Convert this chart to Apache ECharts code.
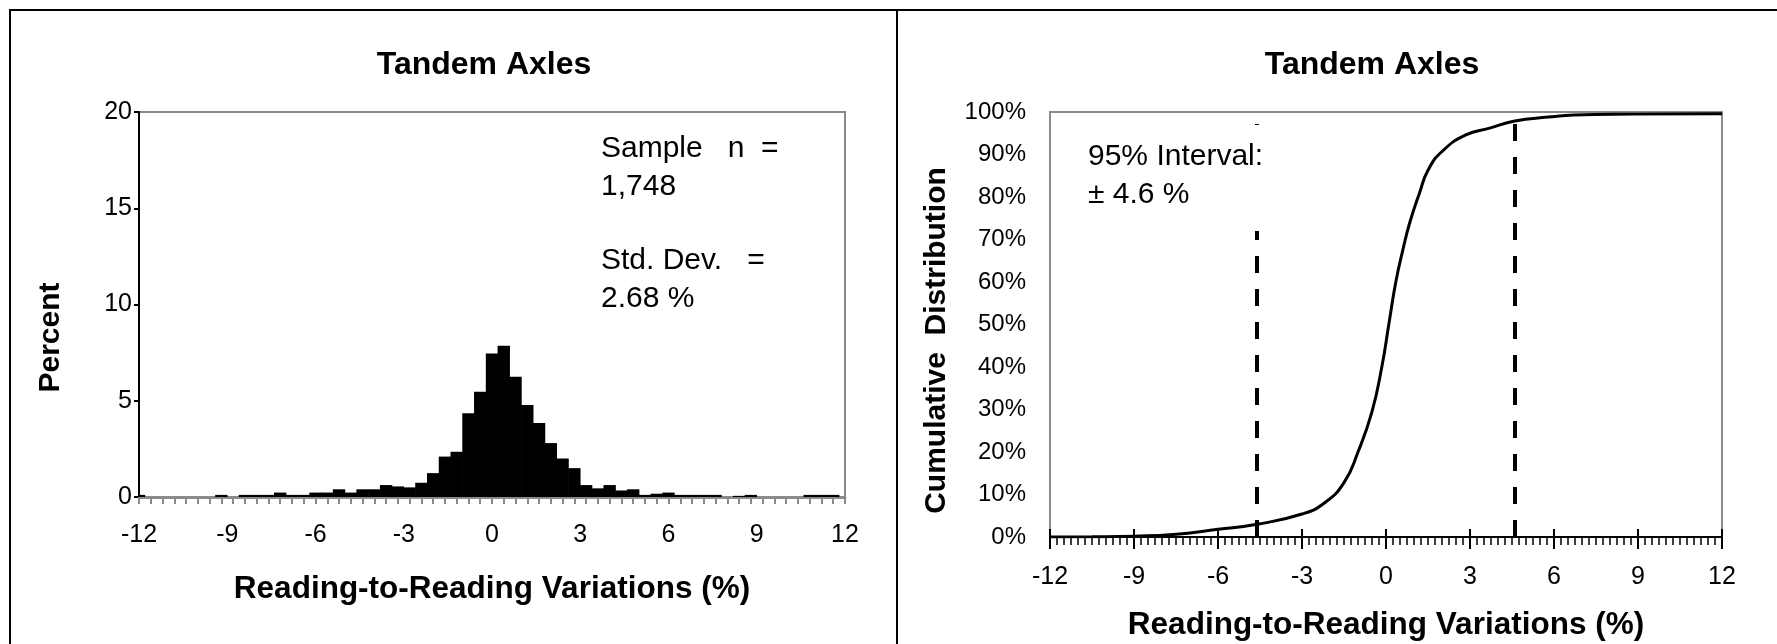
<!DOCTYPE html>
<html>
<head>
<meta charset="utf-8">
<script src="https://cdn.jsdelivr.net/npm/echarts@6/dist/echarts.min.js"></script>
<style>
  html, body { margin: 0; padding: 0; background: #fff; }
  #chart { width: 1777px; height: 644px; }
</style>
</head>
<body>
<div id="chart"></div>
<script>
// histogram: bin centres (%) and share of readings in each bin (%)
const binCenters = [
  -12, -11.6, -11.2, -10.8, -10.4, -10, -9.6, -9.2, -8.8, -8.4,
  -8, -7.6, -7.2, -6.8, -6.4, -6, -5.6, -5.2, -4.8, -4.4,
  -4, -3.6, -3.2, -2.8, -2.4, -2, -1.6, -1.2, -0.8, -0.4,
  0, 0.4, 0.8, 1.2, 1.6, 2, 2.4, 2.8, 3.2, 3.6,
  4, 4.4, 4.8, 5.2, 5.6, 6, 6.4, 6.8, 7.2, 7.6,
  8, 8.4, 8.8, 9.2, 9.6, 10, 10.4, 10.8, 11.2, 11.6, 12
];
const histPercent = [
  0.11, 0, 0, 0, 0, 0, 0, 0.11, 0, 0.11,
  0.11, 0.11, 0.23, 0.11, 0.11, 0.23, 0.23, 0.4, 0.23, 0.4,
  0.4, 0.62, 0.55, 0.5, 0.74, 1.24, 2.1, 2.35, 4.35, 5.47,
  7.46, 7.86, 6.25, 4.78, 3.85, 2.8, 2.0, 1.5, 0.62, 0.45,
  0.62, 0.34, 0.4, 0.11, 0.17, 0.23, 0.11, 0.11, 0.11, 0.11,
  0, 0.06, 0.11, 0, 0, 0, 0, 0.11, 0.11, 0.11, 0
];
const binWidth = 0.4;

// cumulative distribution
const cdfX = [-12, -10.5, -9, -7.6, -6, -4.6, -3, -2.2, -1.5, -1, -0.5, -0.15, 0.1, 0.35, 0.6, 0.85, 1.2, 1.5, 2, 2.85, 3.7, 4.6, 5.8, 6.7, 8.8, 12];
const cdfPercent = [0, 0.05, 0.2, 0.6, 1.8, 3.0, 5.4, 8.0, 12.8, 20, 29.5, 40, 50, 60, 67.5, 74, 81, 86.3, 90.7, 94.6, 96.2, 97.9, 98.8, 99.3, 99.5, 99.6];

const interval95 = [-4.6, 4.6];
const xRange = [-12, 12];
const histYRange = [0, 20];
const cdfYRange = [0, 100];

const FONT = "'Liberation Sans', Arial, sans-serif";
const GREY = '#8a8a8a';

const chart = echarts.init(document.getElementById('chart'));

const histData = binCenters.map((x, i) => [x, histPercent[i]]);
const cdfData = cdfX.map((x, i) => [x, cdfPercent[i]]);

const titleStyle = { fontFamily: FONT, fontSize: 32, fontWeight: 'bold', color: '#000' };
const nameStyle = { fontFamily: FONT, fontSize: 31.5, fontWeight: 'bold', color: '#000' };

const option = {
  animation: false,
  backgroundColor: '#fff',
  title: [
    { text: 'Tandem Axles', left: 484, top: 49, textAlign: 'center', padding: 0, textStyle: titleStyle },
    { text: 'Tandem Axles', left: 1372, top: 49, textAlign: 'center', padding: 0, textStyle: titleStyle }
  ],
  grid: [
    { left: 139, top: 112, width: 706, height: 385, show: true, borderColor: GREY, borderWidth: 2, containLabel: false, outerBoundsMode: 'none' },
    { left: 1050, top: 112, width: 672, height: 425, show: true, borderColor: GREY, borderWidth: 2, containLabel: false, outerBoundsMode: 'none' }
  ],
  xAxis: [
    {
      type: 'value', gridIndex: 0, position: 'bottom', min: xRange[0], max: xRange[1], interval: 3,
      name: 'Reading-to-Reading Variations (%)', nameLocation: 'middle', nameGap: 76,
      nameTextStyle: nameStyle,
      axisLine: { show: true, onZero: false, lineStyle: { color: GREY, width: 3 } },
      axisTick: { show: false },
      splitLine: { show: false },
      axisLabel: { fontFamily: FONT, fontSize: 25, color: '#000', margin: 26 }
    },
    {
      type: 'value', gridIndex: 0, position: 'bottom', min: xRange[0], max: xRange[1], interval: binWidth,
      axisLine: { show: false, onZero: false },
      axisTick: { show: true, length: 7, lineStyle: { color: GREY, width: 2 } },
      axisLabel: { show: false },
      splitLine: { show: false }
    },
    {
      type: 'value', gridIndex: 1, position: 'bottom', min: xRange[0], max: xRange[1], interval: 3,
      name: 'Reading-to-Reading Variations (%)', nameLocation: 'middle', nameGap: 72,
      nameTextStyle: nameStyle,
      axisLine: { show: true, onZero: false, lineStyle: { color: '#000', width: 2 } },
      axisTick: { show: true, length: 12, lineStyle: { color: '#000', width: 2 } },
      minorTick: { show: true, splitNumber: 12, length: 8, lineStyle: { color: '#000', width: 1.5 } },
      splitLine: { show: false },
      minorSplitLine: { show: false },
      axisLabel: { fontFamily: FONT, fontSize: 25, color: '#000', margin: 28 }
    },
    {
      type: 'value', gridIndex: 1, position: 'bottom', min: xRange[0], max: xRange[1], interval: 3,
      axisLine: { show: false, onZero: false },
      axisTick: { show: true, inside: true, length: 8, lineStyle: { color: '#000', width: 2 } },
      axisLabel: { show: false },
      splitLine: { show: false }
    }
  ],
  yAxis: [
    {
      type: 'value', gridIndex: 0, min: histYRange[0], max: histYRange[1], interval: 5,
      name: 'Percent', nameLocation: 'middle', nameGap: 73, nameRotate: 90,
      nameTextStyle: Object.assign({ padding: [0, 66, 0, 0] }, nameStyle, { fontSize: 30 }),
      axisLine: { show: true, onZero: false, lineStyle: { color: '#000', width: 2 } },
      axisTick: { show: true, length: 5, lineStyle: { color: '#000', width: 2 } },
      splitLine: { show: false },
      axisLabel: { fontFamily: FONT, fontSize: 25, color: '#000', margin: 7 }
    },
    {
      type: 'value', gridIndex: 1, min: cdfYRange[0], max: cdfYRange[1], interval: 10,
      name: 'Cumulative  Distribution', nameLocation: 'middle', nameGap: 98, nameRotate: 90,
      nameTextStyle: Object.assign({ padding: [0, 32, 0, 0] }, nameStyle, { fontSize: 30 }),
      axisLine: { show: false, onZero: false },
      axisTick: { show: false },
      splitLine: { show: false },
      axisLabel: { fontFamily: FONT, fontSize: 24, color: '#000', margin: 24, formatter: '{value}%' }
    }
  ],
  series: [
    {
      type: 'custom',
      xAxisIndex: 0,
      yAxisIndex: 0,
      data: histData,
      silent: true,
      renderItem: function (params, api) {
        const x = api.value(0);
        const y = api.value(1);
        if (!y) return null;
        const p0 = api.coord([x - binWidth / 2, y]);
        const p1 = api.coord([x + binWidth / 2, 0]);
        const rect = echarts.graphic.clipRectByRect(
          { x: p0[0] - 0.3, y: p0[1], width: p1[0] - p0[0] + 0.6, height: p1[1] - p0[1] },
          { x: params.coordSys.x, y: params.coordSys.y, width: params.coordSys.width, height: params.coordSys.height }
        );
        return rect && { type: 'rect', shape: rect, style: { fill: '#000' } };
      }
    },
    {
      type: 'line',
      xAxisIndex: 2,
      yAxisIndex: 1,
      data: cdfData,
      smooth: 0.5,
      symbol: 'none',
      silent: true,
      lineStyle: { color: '#000', width: 3 },
      markLine: {
        silent: true,
        symbol: 'none',
        label: { show: false },
        lineStyle: { color: '#000', width: 4, type: [17, 16] },
        emphasis: { disabled: true },
        data: interval95.map(v => [{ coord: [v, cdfYRange[0]] }, { coord: [v, cdfYRange[1]] }])
      }
    }
  ],
  graphic: [
    {
      type: 'rect', z: 100, silent: true,
      shape: { x: 10, y: 10, width: 1780, height: 650 },
      style: { fill: 'none', stroke: '#000', lineWidth: 2 }
    },
    {
      type: 'line', z: 100, silent: true,
      shape: { x1: 897, y1: 10, x2: 897, y2: 644 },
      style: { stroke: '#000', lineWidth: 2 }
    },
    {
      type: 'text', z: 100, silent: true, left: 601, top: 130,
      style: { text: 'Sample   n  =\n1,748', fontFamily: FONT, fontSize: 30, lineHeight: 38, fill: '#000' }
    },
    {
      type: 'text', z: 100, silent: true, left: 601, top: 242,
      style: { text: 'Std. Dev.   =\n2.68 %', fontFamily: FONT, fontSize: 30, lineHeight: 38, fill: '#000' }
    },
    {
      type: 'text', z: 100, silent: true, left: 1076, top: 125,
      style: {
        text: '95% Interval:\n\u00b1 4.6 %', fontFamily: FONT, fontSize: 30, lineHeight: 38, fill: '#000',
        backgroundColor: '#fff', padding: [13, 10, 17, 12]
      }
    }
  ]
};

chart.setOption(option);
</script>
</body>
</html>
